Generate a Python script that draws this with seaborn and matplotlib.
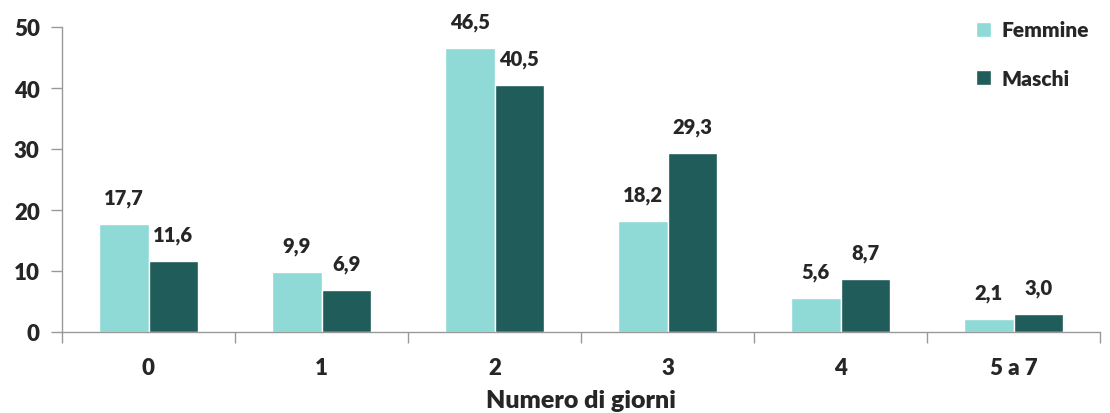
import numpy as np
import pandas as pd
import seaborn as sns
import matplotlib.pyplot as plt

giorni = ["0", "1", "2", "3", "4", "5 a 7"]
femmine = [17.7, 9.9, 46.5, 18.2, 5.6, 2.1]
maschi = [11.6, 6.9, 40.5, 29.3, 8.7, 3.0]

df = pd.DataFrame({
    "giorni": giorni * 2,
    "valore": femmine + maschi,
    "sesso": ["Femmine"] * len(giorni) + ["Maschi"] * len(giorni),
})

sns.set_style("white")
plt.rcParams["font.family"] = ["Lato", "DejaVu Sans"]
plt.rcParams["font.weight"] = "bold"

fig = plt.figure(figsize=(11.1, 4.14), dpi=100)
ax = fig.add_axes([62 / 1110, 1 - 333 / 414, (1100 - 62) / 1110, (333 - 28) / 414])

sns.barplot(data=df, x="giorni", y="valore", hue="sesso",
            palette=["#8FDAD7", "#1F5C5A"], width=0.57, gap=0,
            saturation=1, ax=ax)

for cont in ax.containers:
    for bar in cont:
        h = bar.get_height()
        ax.annotate(f"{h:.1f}".replace(".", ","),
                    (bar.get_x() + bar.get_width() / 2, h),
                    xytext=(0, 19), textcoords="offset points",
                    ha="center", va="center", fontsize=14.5, fontweight="heavy")

ax.set_xlim(-0.5, 5.5)
ax.set_ylim(0, 50)
ax.set_yticks(range(0, 51, 10))
ax.set_xticks(np.arange(-0.5, 6, 1), minor=True)
ax.tick_params(axis="x", which="major", bottom=False, length=0, pad=18, labelsize=16)
ax.tick_params(axis="x", which="minor", bottom=True, length=8, width=1,
               color="#999999", direction="out")
ax.tick_params(axis="y", left=True, length=8, width=1, color="#999999",
               direction="out", labelsize=16, pad=8)
ax.set_xlabel("Numero di giorni", fontsize=18, fontweight="heavy", labelpad=8)
ax.set_ylabel("")
for lab in ax.get_xticklabels() + ax.get_yticklabels():
    lab.set_fontweight("heavy")

sns.despine(ax=ax)
for s in ["left", "bottom"]:
    ax.spines[s].set_color("#999999")
    ax.spines[s].set_linewidth(1)

leg = ax.legend(loc="upper left", bbox_to_anchor=(0.862, 1.083), frameon=False,
                handlelength=0.75, handleheight=0.75, handletextpad=0.5,
                labelspacing=1.4, prop={"size": 15, "weight": "heavy"})

fig.savefig("out.png", dpi=100)
